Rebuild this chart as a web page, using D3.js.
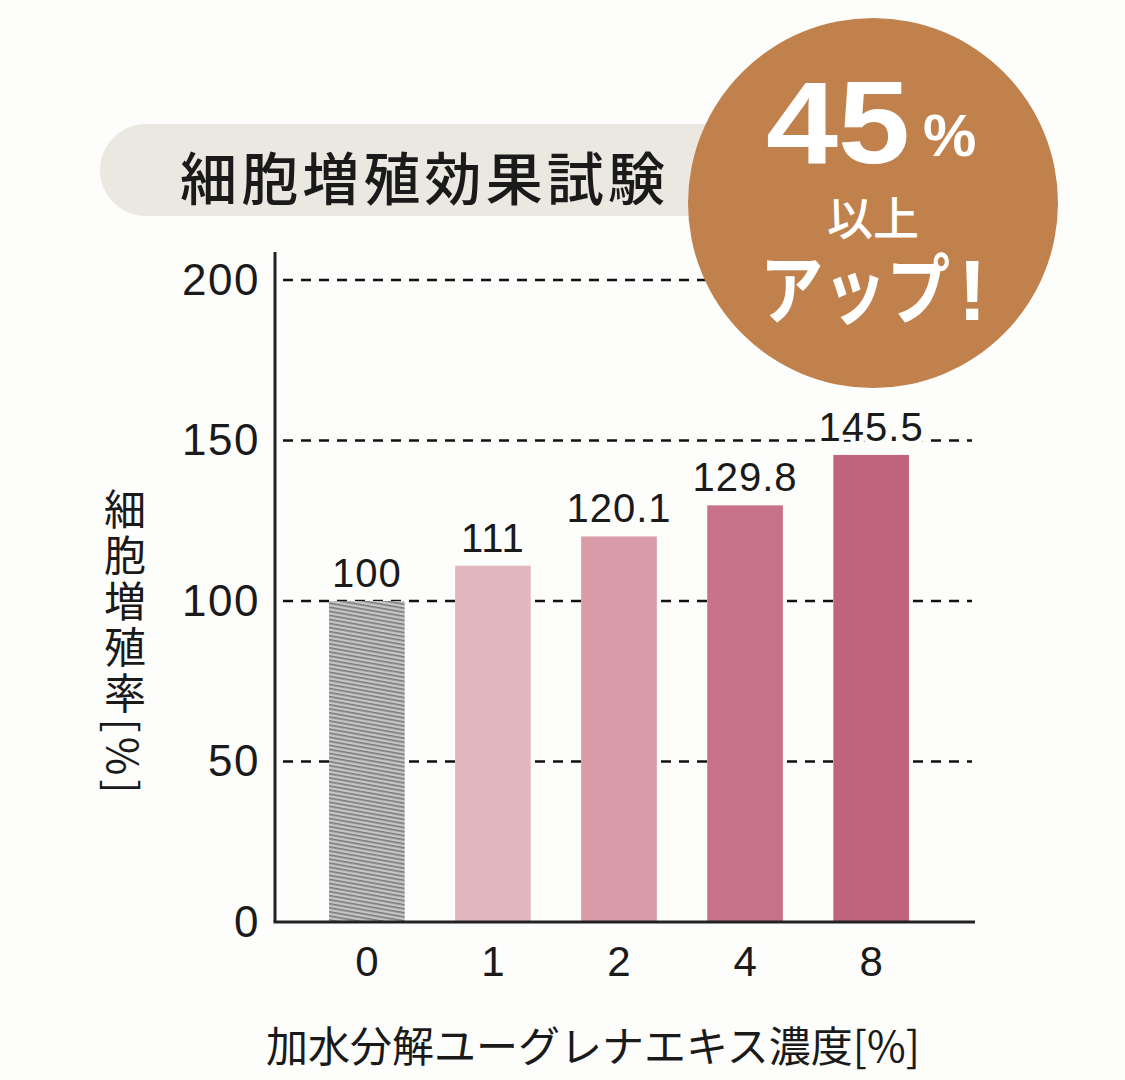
<!DOCTYPE html>
<meta charset="utf-8">
<script src="https://d3js.org/d3.v7.min.js"></script>
<style>
  body { margin: 0; background: #fdfdfc; }
  text { font-family: "Liberation Sans", Arial, sans-serif; fill: #1a1a1a; }
  .jp { font-family: "Noto Sans CJK JP", sans-serif; }
</style>
<div id="chart"></div>
<script>
// data
var categories = ["0", "1", "2", "4", "8"];
var values = [100, 111, 120.1, 129.8, 145.5];
var valueLabels = ["100", "111", "120.1", "129.8", "145.5"];
var barColors = ["url(#hatch)", "#e3b7be", "#d99ba7", "#c77288", "#c0647d"];
var yTicks = [0, 50, 100, 150, 200];

var W = 1125, H = 1080;

var svg = d3.select("#chart").append("svg")
    .attr("width", W)
    .attr("height", H);

// hatch pattern for the control bar
var defs = svg.append("defs");
var pat = defs.append("pattern")
    .attr("id", "hatch")
    .attr("patternUnits", "userSpaceOnUse")
    .attr("width", 10).attr("height", 4)
    .attr("patternTransform", "rotate(10)");
pat.append("rect").attr("width", 10).attr("height", 4).attr("fill", "#c6c6c6");
pat.append("rect").attr("y", 0).attr("width", 10).attr("height", 1.6).attr("fill", "#7a7a7a");

// scales
var x = d3.scaleBand()
    .domain(categories)
    .range([266, 972])
    .paddingInner(0.4)
    .paddingOuter(0.5);

var y = d3.scaleLinear()
    .domain([0, 200])
    .range([922, 280]);

// dashed gridlines
svg.append("g")
    .selectAll("line")
    .data(yTicks.filter(function(d) { return d > 0; }))
    .enter().append("line")
        .attr("x1", 283).attr("x2", 972)
        .attr("y1", function(d) { return y(d); })
        .attr("y2", function(d) { return y(d); })
        .attr("stroke", "#111")
        .attr("stroke-width", 2.5)
        .attr("stroke-dasharray", "10,8");

// bars
svg.append("g")
    .selectAll("rect")
    .data(values)
    .enter().append("rect")
        .attr("x", function(d, i) { return x(categories[i]); })
        .attr("y", function(d) { return y(d); })
        .attr("width", x.bandwidth())
        .attr("height", function(d) { return y(0) - y(d); })
        .attr("fill", function(d, i) { return barColors[i]; });

// value labels (white halo breaks the dashed line behind them)
svg.append("g")
    .selectAll("text")
    .data(values)
    .enter().append("text")
        .attr("x", function(d, i) { return x(categories[i]) + x.bandwidth() / 2; })
        .attr("y", function(d) { return y(d) - 14; })
        .attr("text-anchor", "middle")
        .style("font-size", "40px")
        .style("letter-spacing", "1px")
        .style("stroke", "#fdfdfc")
        .style("stroke-width", 10)
        .style("paint-order", "stroke")
        .text(function(d, i) { return valueLabels[i]; });

// y axis
var yAxis = svg.append("g")
    .attr("transform", "translate(275,0)")
    .call(d3.axisLeft(y).tickValues(yTicks).tickSize(0).tickPadding(15));
yAxis.select(".domain").attr("stroke", "#222").attr("stroke-width", 3)
    .attr("d", "M0,252V922");
yAxis.selectAll("text")
    .style("font-size", "44px")
    .style("letter-spacing", "1.5px")
    .style("font-family", "Liberation Sans, Arial, sans-serif")
    .attr("fill", "#1a1a1a");

// x axis
var xAxis = svg.append("g")
    .attr("transform", "translate(0,922)")
    .call(d3.axisBottom(x).tickSize(0).tickPadding(24));
xAxis.select(".domain").attr("stroke", "#222").attr("stroke-width", 3)
    .attr("d", "M273.5,0H975");
xAxis.selectAll("text")
    .style("font-size", "42px")
    .style("font-family", "Liberation Sans, Arial, sans-serif")
    .attr("fill", "#1a1a1a");

// axis titles
svg.append("text")
    .attr("class", "jp")
    .attr("x", 593)
    .attr("y", 1062)
    .attr("text-anchor", "middle")
    .style("font-size", "42px")
    .text("加水分解ユーグレナエキス濃度[%]");

svg.append("text")
    .attr("class", "jp")
    .attr("x", 125)
    .attr("y", 643)
    .attr("text-anchor", "middle")
    .style("writing-mode", "vertical-rl")
    .style("font-size", "42px")
    .style("letter-spacing", "4px")
    .text("細胞増殖率[%]");

// title pill
svg.append("rect")
    .attr("x", 100).attr("y", 124)
    .attr("width", 680).attr("height", 92)
    .attr("rx", 46)
    .attr("fill", "#ebe8e2");
svg.append("text")
    .attr("class", "jp")
    .attr("x", 180)
    .attr("y", 200)
    .attr("textLength", 485)
    .style("font-size", "57px")
    .style("font-weight", 500)
    .text("細胞増殖効果試験");

// badge
svg.append("circle")
    .attr("cx", 873).attr("cy", 203).attr("r", 185)
    .attr("fill", "#c0814d");
var badge = svg.append("g");
badge.append("text")
    .attr("x", 766).attr("y", 163)
    .attr("textLength", 144)
    .attr("lengthAdjust", "spacingAndGlyphs")
    .style("font-size", "116px").style("font-weight", "bold")
    .style("fill", "#fff")
    .text("45");
badge.append("text")
    .attr("x", 923).attr("y", 156)
    .style("font-size", "60px").style("font-weight", "bold")
    .style("fill", "#fff")
    .text("%");
badge.append("text")
    .attr("class", "jp")
    .attr("x", 873).attr("y", 235)
    .attr("text-anchor", "middle")
    .style("font-size", "46px").style("font-weight", 500)
    .style("fill", "#fff")
    .text("以上");
badge.append("text")
    .attr("class", "jp")
    .attr("x", 760).attr("y", 318)
    .attr("textLength", 190)
    .attr("lengthAdjust", "spacingAndGlyphs")
    .style("font-size", "76px").style("font-weight", "bold")
    .style("fill", "#fff")
    .text("アップ");
badge.append("text")
    .attr("x", 958).attr("y", 320)
    .style("font-size", "86px").style("font-weight", "bold")
    .style("fill", "#fff")
    .text("!");
</script>
